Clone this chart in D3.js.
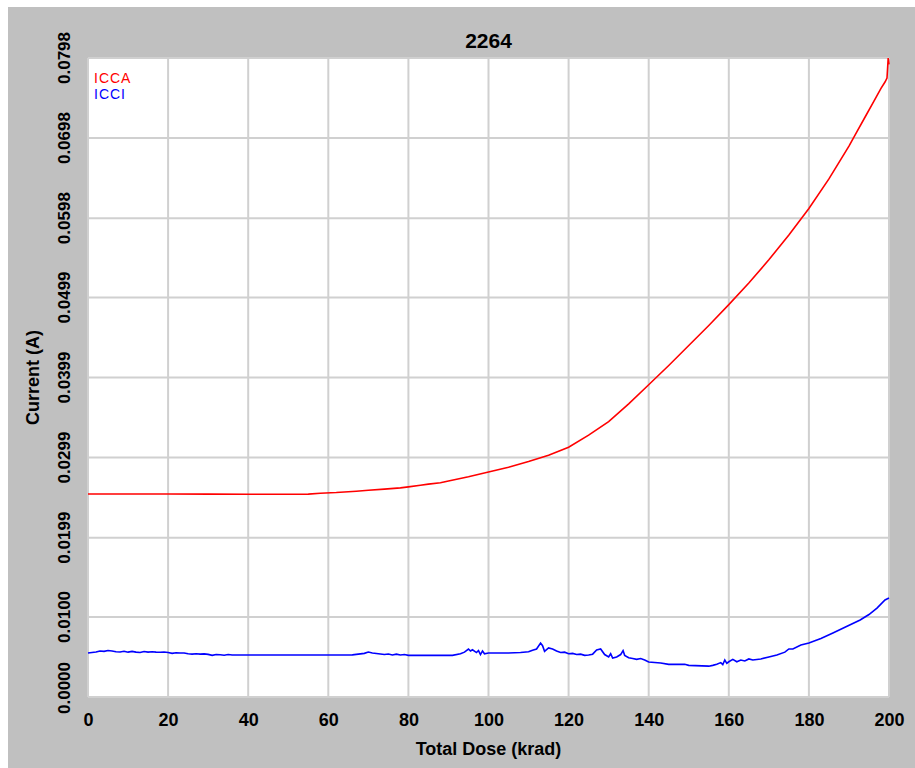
<!DOCTYPE html>
<html>
<head>
<meta charset="utf-8">
<script src="https://cdn.jsdelivr.net/npm/d3@7/dist/d3.min.js"></script>
<style>
  html, body { margin: 0; padding: 0; background: #ffffff; }
  svg { display: block; }
  text { font-family: "Liberation Sans", Arial, sans-serif; }
</style>
</head>
<body>
<svg id="chart" width="915" height="768"></svg>
<script>
// ---------- DATA ----------
const chartTitle = "2264";
const xTicks = [0, 20, 40, 60, 80, 100, 120, 140, 160, 180, 200];
const yTicks = [0.0000, 0.0100, 0.0199, 0.0299, 0.0399, 0.0499, 0.0598, 0.0698, 0.0798];
const yTickLabels = ["0.0000", "0.0100", "0.0199", "0.0299", "0.0399", "0.0499", "0.0598", "0.0698", "0.0798"];
const seriesNames = ["ICCA", "ICCI"];

const iccaDose = [0, 10, 20, 30, 40, 50, 55, 58, 62, 67, 70, 74, 78, 80, 83, 85, 88, 90, 95, 100,
  105, 110, 115, 120, 125, 130, 135, 140, 145, 150, 155, 160, 165, 170, 175, 180, 185, 190,
  192, 194, 196, 198, 199, 199.5, 199.8, 200];
const iccaValues = [0.02535, 0.02535, 0.02535, 0.02534, 0.02532, 0.02532, 0.02533, 0.02545, 0.02553,
  0.02570, 0.02582, 0.02596, 0.02612, 0.02624, 0.02645, 0.02658, 0.02675, 0.02697, 0.0275, 0.0281,
  0.0287, 0.0294, 0.0302, 0.0312, 0.0327, 0.0344, 0.0366, 0.0390, 0.0414, 0.0439, 0.0464, 0.0490,
  0.0517, 0.0546, 0.0577, 0.0610, 0.0647, 0.0688, 0.0706, 0.0724, 0.0742, 0.0760, 0.0768, 0.0773, 0.0798, 0.0790];

const icciDose = [0, 1, 2, 3, 4, 5, 6, 7, 8, 9, 10, 11, 12, 13, 14, 15, 16, 17, 18, 19, 20, 21, 22, 23,
  24, 25, 26, 27, 28, 29, 30, 31, 32, 33, 34, 35, 36, 40, 50, 60, 66, 69, 70, 71, 73, 74, 75, 76, 77,
  78, 79, 80, 85, 91, 93, 94, 95, 95.5, 96, 97, 97.5, 98, 98.5, 99, 100, 105, 108, 110, 111, 112, 113,
  113.5, 114, 115, 116, 117, 118, 119, 120, 121, 122, 123, 124, 125, 126, 127, 128, 129, 130, 130.5,
  131, 132, 133, 133.6, 134, 135, 136, 137, 138, 139, 140, 143, 145, 149, 150, 155, 156, 157, 158,
  158.5, 159, 159.5, 160, 161, 162, 163, 164, 165, 166, 168, 170, 172, 174, 175, 176, 178, 180, 183,
  186, 189, 192.8, 195, 197, 199, 200];
const icciValues = [0.00549, 0.00555, 0.00562, 0.00575, 0.00570, 0.00580, 0.00575, 0.00565, 0.00562,
  0.00572, 0.00560, 0.00570, 0.00560, 0.00555, 0.00568, 0.00560, 0.00565, 0.00560, 0.00558, 0.00562,
  0.00555, 0.00545, 0.00552, 0.00550, 0.00550, 0.00540, 0.00535, 0.00540, 0.00535, 0.00538, 0.00532,
  0.00520, 0.00530, 0.00528, 0.00522, 0.00530, 0.00524, 0.00524, 0.00524, 0.00524, 0.00526, 0.00545,
  0.00562, 0.00550, 0.00537, 0.00530, 0.00537, 0.00524, 0.00535, 0.00524, 0.00530, 0.00520, 0.00520,
  0.00520, 0.00540, 0.00560, 0.00599, 0.00575, 0.00590, 0.00555, 0.00580, 0.00530, 0.00575, 0.00540,
  0.00549, 0.00549, 0.00555, 0.00565, 0.00585, 0.00600, 0.00674, 0.00640, 0.00570, 0.00612, 0.00600,
  0.00575, 0.00555, 0.00560, 0.00540, 0.00545, 0.00530, 0.00535, 0.00520, 0.00525, 0.00535, 0.00587,
  0.00600, 0.00530, 0.00500, 0.00540, 0.00487, 0.00500, 0.00530, 0.00580, 0.00520, 0.00490, 0.00480,
  0.00470, 0.00480, 0.00462, 0.00437, 0.00425, 0.00408, 0.00408, 0.00395, 0.00385, 0.00395, 0.00410,
  0.00430, 0.00405, 0.00462, 0.00420, 0.00440, 0.00470, 0.00440, 0.00462, 0.00450, 0.00475, 0.00462,
  0.00475, 0.00500, 0.00525, 0.00560, 0.00600, 0.00600, 0.00649, 0.00674, 0.00730, 0.00799, 0.00870,
  0.00962, 0.01030, 0.01110, 0.01211, 0.01236];

// ---------- LAYOUT ----------
const W = 915, H = 768;
const plot = { left: 88, top: 58, right: 889, bottom: 697 };
const svg = d3.select("#chart");

svg.append("rect").attr("x", 0).attr("y", 0).attr("width", W).attr("height", H).attr("fill", "#ffffff");
svg.append("rect").attr("x", 8).attr("y", 7).attr("width", W - 8).attr("height", H - 7).attr("fill", "#c0c0c0");
svg.append("rect").attr("x", plot.left).attr("y", plot.top)
  .attr("width", plot.right - plot.left).attr("height", plot.bottom - plot.top).attr("fill", "#ffffff");

const x = d3.scaleLinear().domain([0, 200]).range([plot.left, plot.right]);
const y = d3.scaleLinear().domain([0, 0.0798]).range([plot.bottom, plot.top]);

// grid
const grid = svg.append("g").attr("stroke", "#d0d0d0").attr("stroke-width", 2);
grid.selectAll("line.v").data(xTicks).join("line").attr("class", "v")
  .attr("x1", d => x(d)).attr("x2", d => x(d)).attr("y1", plot.top).attr("y2", plot.bottom);
grid.selectAll("line.h").data(yTicks).join("line").attr("class", "h")
  .attr("y1", d => y(d)).attr("y2", d => y(d)).attr("x1", plot.left).attr("x2", plot.right);

// x axis labels
const xAxis = d3.axisBottom(x).tickValues(xTicks).tickSize(0).tickPadding(0).tickFormat(d3.format("d"));
const gx = svg.append("g").attr("transform", `translate(0,${plot.bottom})`).call(xAxis);
gx.select(".domain").remove();
gx.selectAll("text").attr("dy", null).attr("y", 29)
  .attr("font-family", "'Liberation Sans', Arial, sans-serif")
  .attr("font-size", 18).attr("font-weight", "bold").attr("fill", "#000");

// y axis labels (rotated)
const gy = svg.append("g");
gy.selectAll("text").data(yTicks).join("text")
  .attr("transform", (d) => `translate(70,${Math.min(y(d), plot.bottom - 9)}) rotate(-90)`)
  .attr("text-anchor", "middle")
  .attr("font-size", 17).attr("font-weight", "bold").attr("fill", "#000")
  .text((d, i) => yTickLabels[i]);

// titles
svg.append("text").attr("x", (plot.left + plot.right) / 2).attr("y", 48)
  .attr("text-anchor", "middle").attr("font-size", 21).attr("font-weight", "bold").text(chartTitle);
svg.append("text").attr("x", (plot.left + plot.right) / 2).attr("y", 755)
  .attr("text-anchor", "middle").attr("font-size", 18).attr("font-weight", "bold").text("Total Dose (krad)");
svg.append("text").attr("transform", `translate(39,${(plot.top + plot.bottom) / 2}) rotate(-90)`)
  .attr("text-anchor", "middle").attr("font-size", 18).attr("font-weight", "bold").text("Current (A)");

// lines
const line = d3.line().x(d => x(d[0])).y(d => y(d[1]));
const iccaData = iccaDose.map((d, i) => [d, iccaValues[i]]);
const icciData = icciDose.map((d, i) => [d, icciValues[i]]);
svg.append("path").datum(iccaData).attr("d", line).attr("fill", "none")
  .attr("stroke", "#ff0000").attr("stroke-width", 1.6);
svg.append("path").datum(icciData).attr("d", line).attr("fill", "none")
  .attr("stroke", "#0000ff").attr("stroke-width", 1.6);

// legend
const legendColors = ["#ff0000", "#0000ff"];
svg.append("g").selectAll("text").data(seriesNames).join("text")
  .attr("x", 94).attr("y", (d, i) => 83 + i * 16)
  .attr("font-size", 14).attr("letter-spacing", 1).attr("fill", (d, i) => legendColors[i])
  .text(d => d);
</script>
</body>
</html>
